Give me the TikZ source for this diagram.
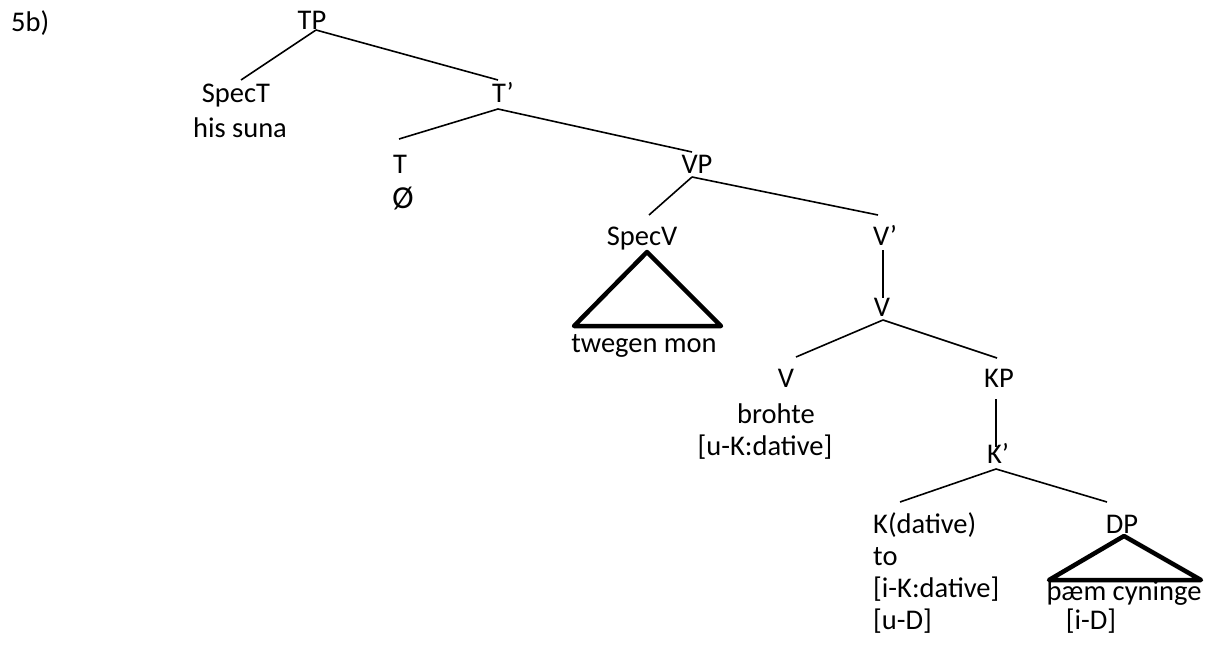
\documentclass[tikz,border=0pt]{standalone}
\usepackage{fontspec}
\setmainfont{Carlito}
\begin{document}
\begin{tikzpicture}[x=1pt,y=-1pt,
  lbl/.style={inner sep=0pt, anchor=base, font=\fontsize{28.5}{32}\selectfont},
  lbll/.style={lbl, anchor=base west},
  edge/.style={line width=1.6pt},
  tri/.style={line width=4.5pt, line join=round}]
\useasboundingbox (0,0) rectangle (1223,653);

% labels
\node[lbll] (lab) at (11,31) {5b)};
\node[lbl] (TP) at (312,29) {TP};
\node[lbl] (SpecT) at (236,102) {SpecT};
\node[lbl] (SpecTw) at (240,137) {his suna};
\node[lbl] (Tbar) at (503,102) {T’};
\node[lbl] (T) at (400,173) {T};
\node[lbl, font=\fontsize{32}{34}\selectfont] (Tnull) at (403,208) {Ø};
\node[lbl] (VP) at (697,173) {VP};
\node[lbl] (SpecV) at (642,245) {SpecV};
\node[lbl] (twm) at (644,352) {twegen mon};
\node[lbl] (Vbar) at (885,245) {V’};
\node[lbl] (V) at (882,316) {V};
\node[lbl] (Vh) at (786,387) {V};
\node[lbl] (bro) at (776,423) {brohte};
\node[lbl] (uK) at (765,455) {[u-K:dative]};
\node[lbl] (KP) at (999,387) {KP};
\node[lbl] (Kbar) at (998,463) {K’};
\node[lbll] (Kh) at (873,533) {K(dative)};
\node[lbll] (to) at (873,565) {to};
\node[lbll] (iK) at (873,597) {[i-K:dative]};
\node[lbll] (uD) at (873,629) {[u-D]};
\node[lbl] (DP) at (1122,533) {DP};
\node[lbl] (thc) at (1124,600) {þæm cyninge};
\node[lbl] (iD) at (1091,629) {[i-D]};

% connector end points
\coordinate (TPb) at (316,30);
\coordinate (SpecTt) at (241,80);
\coordinate (Tbart) at (498,80);
\coordinate (Tbarb) at (498,109);
\coordinate (Tt) at (399,139);
\coordinate (VPt) at (692,152);
\coordinate (VPb) at (692,177);
\coordinate (SpecVt) at (649,215);
\coordinate (Vbart) at (878,215);
\coordinate (Vbarb) at (883,250);
\coordinate (Vt) at (883,298);
\coordinate (Vb) at (883,320);
\coordinate (Vht) at (796,357);
\coordinate (KPt) at (997,358);
\coordinate (KPb) at (996,399);
\coordinate (Kbart) at (996,447);
\coordinate (Kbarb) at (996,469);
\coordinate (Kht) at (900,502);
\coordinate (DPt) at (1107,502);

\draw[edge] (TPb) -- (SpecTt);
\draw[edge] (TPb) -- (Tbart);
\draw[edge] (Tbarb) -- (Tt);
\draw[edge] (Tbarb) -- (VPt);
\draw[edge] (VPb) -- (SpecVt);
\draw[edge] (VPb) -- (Vbart);
\draw[edge] (Vbarb) -- (Vt);
\draw[edge] (Vb) -- (Vht);
\draw[edge] (Vb) -- (KPt);
\draw[edge] (KPb) -- (Kbart);
\draw[edge] (Kbarb) -- (Kht);
\draw[edge] (Kbarb) -- (DPt);

% triangles
\draw[tri] (647,252) -- (574,326) -- (721,326) -- cycle;
\draw[tri] (1124,536) -- (1049,580) -- (1201,580) -- cycle;
\end{tikzpicture}
\end{document}
